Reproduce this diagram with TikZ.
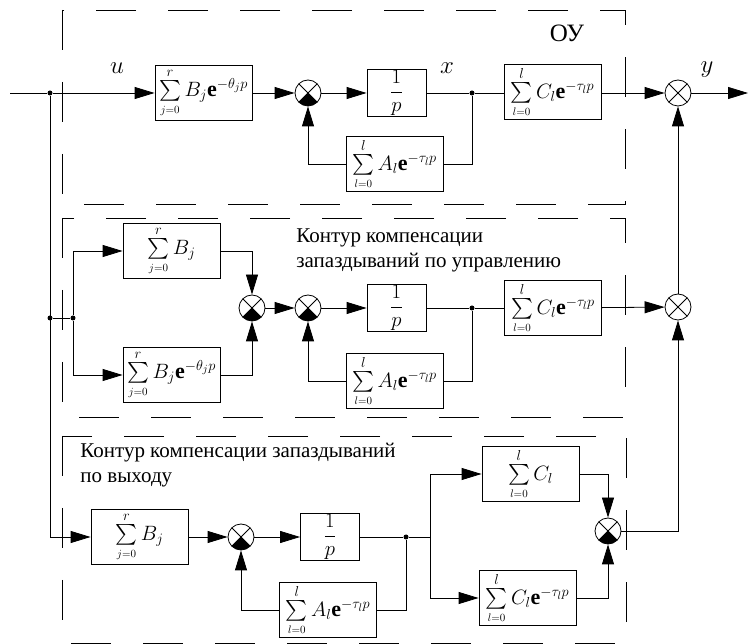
\documentclass[tikz,border=0pt]{standalone}
\usepackage{fontspec}
\setmainfont{Liberation Serif}
\usepackage{amsmath}
\usetikzlibrary{arrows.meta,positioning,calc}

\newcommand{\sumj}{\sum\limits_{\scriptscriptstyle j=0}^{r}}
\newcommand{\suml}{\sum\limits_{\scriptscriptstyle l=0}^{l}}

\begin{document}
\begin{tikzpicture}[x=1pt, y=-1pt, line width=0.8pt,
    blk/.style={draw, fill=white, inner sep=1pt, minimum width=97pt, minimum height=55pt, font=\fontsize{22}{26}\selectfont},
    pbox/.style={draw, fill=white, inner sep=1pt, minimum width=59pt, minimum height=45pt, font=\fontsize{21}{24}\selectfont},
    sumopen/.style={circle, draw, fill=white, minimum size=26pt, inner sep=0pt,
        path picture={\draw[black] (path picture bounding box.center) +(45:13pt) -- +(-135:13pt) +(135:13pt) -- +(-45:13pt);}},
    sumfill/.style={circle, draw, fill=white, minimum size=26pt, inner sep=0pt,
        path picture={\fill[black] (path picture bounding box.center) -- +(-45:13pt) arc[start angle=-45, end angle=-135, radius=13pt] -- cycle;
            \draw[black] (path picture bounding box.center) +(45:13pt) -- +(-135:13pt) +(135:13pt) -- +(-45:13pt);}},
    arr/.style={-{Triangle[length=20pt,width=12pt]}},
    dot/.style={circle, fill, inner sep=0pt, minimum size=5pt},
    frame/.style={line width=0.7pt, dash pattern=on 40pt off 32pt},
    lbl/.style={font=\fontsize{21}{25}\selectfont, align=left, inner sep=0pt},
    sig/.style={font=\fontsize{26}{30}\selectfont, inner sep=0pt}]
    \useasboundingbox (0,0) rectangle (748,644);

    % Frames
    \draw[frame] (62,10) rectangle (625,204);
    \draw[frame] (62,218) rectangle (625,417);
    \draw[frame] (62,436) rectangle (626,643);

    % Plant (top)
    \coordinate (in) at (10,93);
    \node[dot] (J0) at (50,93) {};
    \node[blk] (B1) at (203.5,93) {$\sumj B_j\mathbf{e}^{-\theta_j p}$};
    \node[sumfill] (S1) at (308,93) {};
    \node[pbox] (P1) at (396.5,93) {$\dfrac{1}{p}$};
    \node[dot] (X1) at (472,93) {};
    \node[blk] (C1) at (552.5,92) {$\suml C_l\mathbf{e}^{-\tau_l p}$};
    \node[blk] (A1) at (394.5,164) {$\suml A_l\mathbf{e}^{-\tau_l p}$};
    \node[sumopen] (S4) at (678,93) {};
    \coordinate (out) at (748,93);
    \node[sig] (lu) at (117,68) {$u$};
    \node[sig] (lx) at (447,68) {$x$};
    \node[sig] (ly) at (707,70) {$y$};
    \node[font=\fontsize{25}{30}\selectfont, inner sep=0pt] (ou) at (567,33) {ОУ};

    % Control delay compensation (middle)
    \node[dot] (J1) at (50,318) {};
    \node[dot] (J2) at (73,318) {};
    \node[blk] (B2) at (171.5,251) {$\sumj B_j$};
    \node[blk] (B3) at (171.5,375) {$\sumj B_j\mathbf{e}^{-\theta_j p}$};
    \node[sumfill] (S2a) at (252,308) {};
    \node[sumfill] (S2b) at (308,308) {};
    \node[pbox] (P2) at (396.5,308) {$\dfrac{1}{p}$};
    \node[dot] (X2) at (472,308) {};
    \node[blk] (C2) at (553,308) {$\suml C_l\mathbf{e}^{-\tau_l p}$};
    \node[blk] (A2) at (394.5,381) {$\suml A_l\mathbf{e}^{-\tau_l p}$};
    \node[sumopen] (S5) at (678,307) {};
    \node[lbl, anchor=west] (t1) at (296,250) {Контур компенсации\\запаздываний по управлению};

    % Output delay compensation (bottom)
    \node[blk] (B4) at (139.5,537) {$\sumj B_j$};
    \node[sumfill] (S3a) at (241,537) {};
    \node[pbox] (P3) at (330,537) {$\dfrac{1}{p}$};
    \node[dot] (X3) at (406,537) {};
    \coordinate (Br) at (430,537);
    \node[blk] (C3) at (530.5,474) {$\suml C_l$};
    \node[blk] (C4) at (527.5,598) {$\suml C_l\mathbf{e}^{-\tau_l p}$};
    \node[sumfill] (S3b) at (608,531) {};
    \node[blk] (A3) at (328,610) {$\suml A_l\mathbf{e}^{-\tau_l p}$};
    \node[lbl, anchor=west] (t2) at (80,465) {Контур компенсации запаздываний\\по выходу};

    % Connections, top
    \draw (in) -- (J0);
    \draw[arr] (J0) -- (B1);
    \draw[arr] (B1) -- (S1);
    \draw[arr] (S1) -- (P1);
    \draw (P1) -- (X1) -- (C1.west |- X1);
    \draw[arr] (C1.east |- S4) -- (S4);
    \draw[arr] (S4) -- (out);
    \draw (X1) |- (A1);
    \draw[arr] (A1) -| (S1);

    % Connections, middle
    \draw[arr] (J0) |- (B4);
    \draw (J1) -- (J2);
    \draw[arr] (J2) |- (B2);
    \draw[arr] (J2) |- (B3);
    \draw[arr] (B2) -| (S2a);
    \draw[arr] (B3) -| (S2a);
    \draw[arr] (S2a) -- (S2b);
    \draw[arr] (S2b) -- (P2);
    \draw (P2) -- (X2) -- (C2);
    \draw[arr] (C2) -- (S5);
    \draw (X2) |- (A2);
    \draw[arr] (A2) -| (S2b);
    \draw[arr] (S5) -- (S4);

    % Connections, bottom
    \draw[arr] (B4) -- (S3a);
    \draw[arr] (S3a) -- (P3);
    \draw (P3) -- (X3) -- (Br);
    \draw[arr] (Br) |- (C3);
    \draw[arr] (Br) |- (C4);
    \draw[arr] (C3) -| (S3b);
    \draw[arr] (C4) -| (S3b);
    \draw[arr] (S3b) -| (S5);
    \draw (X3) |- (A3);
    \draw[arr] (A3) -| (S3a);
\end{tikzpicture}
\end{document}
